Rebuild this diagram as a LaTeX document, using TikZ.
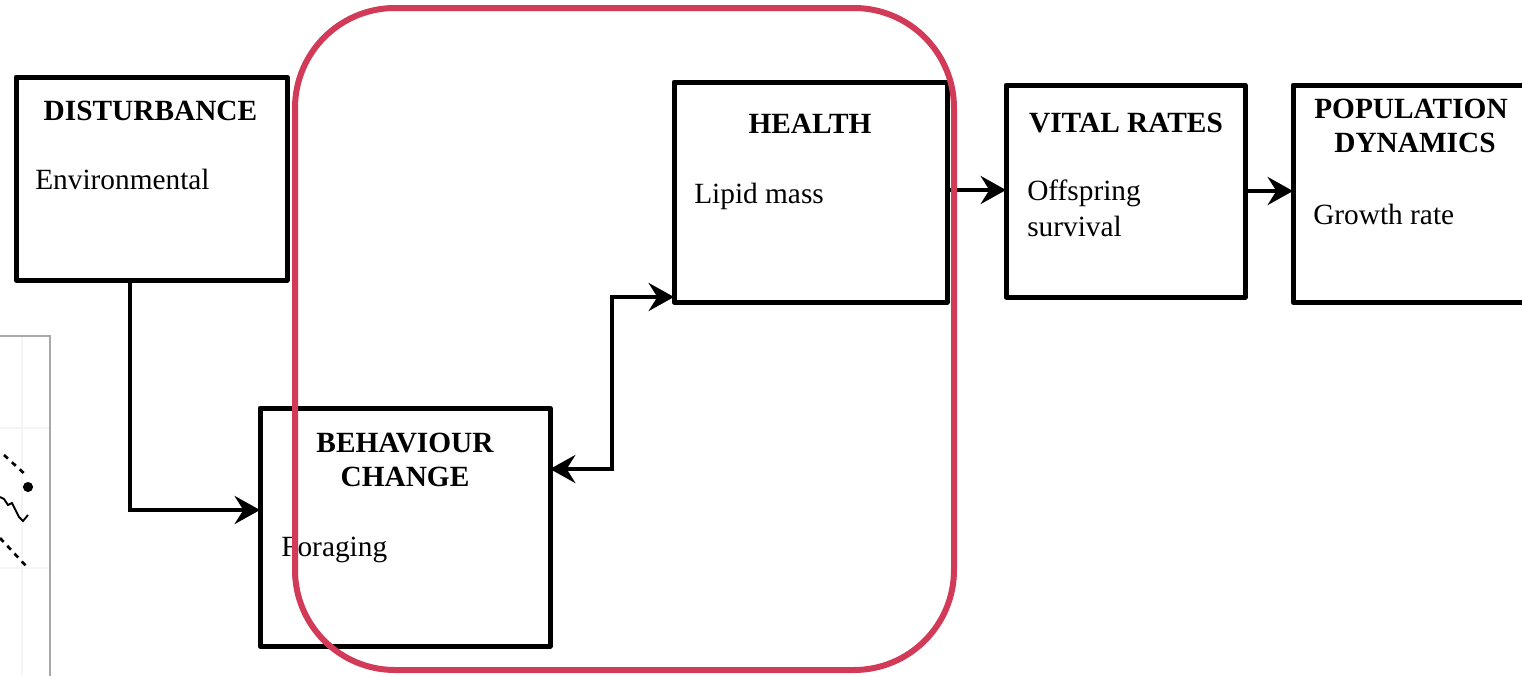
\documentclass[tikz,border=0pt]{standalone}
\usepackage{fontspec}
\setmainfont{Liberation Serif}
\usetikzlibrary{arrows.meta}
\definecolor{framered}{HTML}{D23B58}
\definecolor{axisgray}{HTML}{A8A8A8}
\definecolor{gridgray}{HTML}{F5F5F5}
\begin{document}
\begin{tikzpicture}[x=0.75pt,y=-0.75pt,
  box/.style={draw=black,line width=3.75pt,line join=round,inner sep=0pt,outer sep=0pt},
  ttl/.style={font=\fontsize{22}{26}\selectfont\bfseries,anchor=base,inner sep=0pt},
  txt/.style={font=\fontsize{22}{26}\selectfont,anchor=base west,inner sep=0pt},
  tip/.style={Stealth[length=19pt,width=21pt,inset=6.5pt]},
  conn/.style={line width=3.2pt,line join=miter,-{Stealth[length=19pt,width=21pt,inset=6.5pt]}},
  biconn/.style={line width=3.2pt,line join=miter,{Stealth[length=19pt,width=21pt,inset=6.5pt]}-{Stealth[length=19pt,width=21pt,inset=6.5pt]}},
  group/.style={draw=framered,line width=4.5pt,rounded corners=75pt}]
\useasboundingbox (0,0) rectangle (1522,676);
\clip (0,0) rectangle (1522,676);

% partial plot at the left edge
\draw[gridgray,line width=0.8pt] (22,336) -- (22,676);
\draw[gridgray,line width=0.8pt] (0,428) -- (50,428) (0,568) -- (50,568);
\draw[axisgray,line width=1.3pt] (0,336) -- (50,336) -- (50,676);
\draw[black,line width=2pt,dash pattern=on 4pt off 4pt] (4,455) -- (27,476);
\draw[black,line width=2pt,dash pattern=on 4pt off 4pt] (0,538) -- (27,567);
\draw[black,line width=1.4pt] (0,497) -- (4,499) -- (8,505) -- (12,503) -- (16,511) -- (19,517) -- (23,521) -- (28,515);
\fill[black] (28,487) circle (3.8pt);

% boxes
\node[box,minimum width=203.25pt,minimum height=152.25pt] (dist) at (151.5,178.5) {};
\node[box,minimum width=217.5pt,minimum height=178.5pt] (beh) at (405,527) {};
\node[box,minimum width=204.75pt,minimum height=165pt] (hea) at (810.5,192) {};
\node[box,minimum width=179.25pt,minimum height=159pt] (vit) at (1125.5,191) {};
\node[box,minimum width=200.25pt,minimum height=162.75pt] (pop) at (1426.5,193.5) {};

% box texts
\node[ttl] (distT) at (150.5,120) {DISTURBANCE};
\node[txt] (distS) at (35,189) {Environmental};
\node[ttl] (behT1) at (405,452) {BEHAVIOUR};
\node[ttl] (behT2) at (405,486) {CHANGE};
\node[txt] (behS) at (281,556) {Foraging};
\node[ttl] (heaT) at (810,133) {HEALTH};
\node[txt] (heaS) at (694,203) {Lipid mass};
\node[ttl] (vitT) at (1126,132) {VITAL RATES};
\node[txt] (vitS1) at (1027,200) {Offspring};
\node[txt] (vitS2) at (1027,236) {survival};
\node[ttl] (popT1) at (1411,118) {POPULATION};
\node[ttl] (popT2) at (1415,152) {DYNAMICS};
\node[txt] (popS) at (1313,224) {Growth rate};

% connectors
\coordinate (bend) at (612,380);
\draw[conn] ([xshift=-16.1pt]dist.south) |- ([yshift=12.75pt]beh.west);
\draw[biconn] ([yshift=43.5pt]beh.east) -| (bend) |- ([yshift=-78.75pt]hea.west);
\draw[conn] ([yshift=1.5pt]hea.east) -- ([yshift=0.75pt]vit.west);
\draw[conn] (vit.east) -- (vit.east -| pop.west);

% grouping outline
\draw[group] (295,8) rectangle (954,670);
\end{tikzpicture}
\end{document}
